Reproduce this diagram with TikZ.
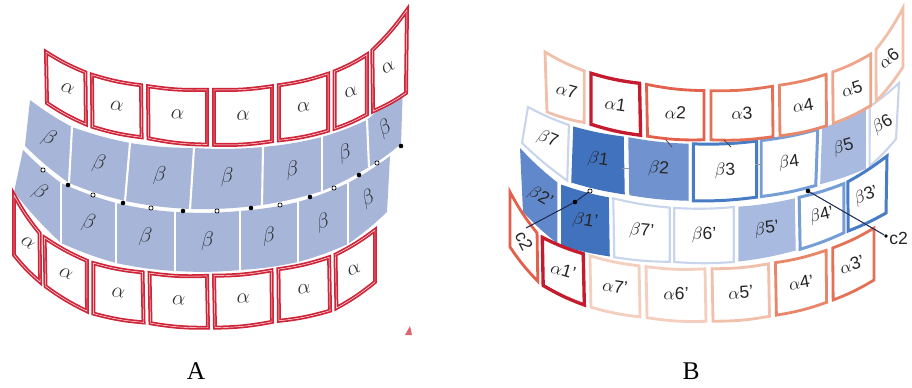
\documentclass[tikz,border=0pt]{standalone}
\usepackage{fontspec}
\setmainfont{Liberation Serif}
\setsansfont{Liberation Sans}
\usetikzlibrary{calc}
\definecolor{aRed}{RGB}{208,36,56}
\definecolor{aBlue}{RGB}{167,181,216}
\definecolor{cR1}{RGB}{196,28,46}
\definecolor{cR2}{RGB}{226,96,76}
\definecolor{cR3}{RGB}{228,112,86}
\definecolor{cR4}{RGB}{231,134,104}
\definecolor{cR5}{RGB}{237,166,140}
\definecolor{cR6}{RGB}{241,192,170}
\definecolor{cR7}{RGB}{244,206,190}
\definecolor{cB0}{RGB}{200,213,236}
\definecolor{cB1}{RGB}{64,114,190}
\definecolor{cB2}{RGB}{112,146,206}
\definecolor{cB3}{RGB}{72,124,196}
\definecolor{cB4}{RGB}{118,158,214}
\definecolor{cB5}{RGB}{168,186,224}
\definecolor{cB6}{RGB}{96,136,202}
\definecolor{lineC}{RGB}{30,45,90}
\tikzset{
  afr/.style={draw=aRed, line width=1pt, double=white, double distance=0.25pt, fill=white},
  bfl/.style={fill=aBlue},
  ra/.style={draw=cR1, line width=1.9pt, fill=white},
  rb/.style={draw=cR2, line width=1.6pt, fill=white},
  rc/.style={draw=cR3, line width=1.6pt, fill=white},
  rd/.style={draw=cR4, line width=1.6pt, fill=white},
  re/.style={draw=cR5, line width=1.6pt, fill=white},
  rf/.style={draw=cR6, line width=1.6pt, fill=white},
  rg/.style={draw=cR7, line width=1.6pt, fill=white},
  ua/.style={draw=cB0, line width=1.2pt, fill=white},
  ub/.style={fill=cB1},
  uc/.style={fill=cB2},
  ud/.style={draw=cB3, line width=1.7pt, fill=white},
  ue/.style={draw=cB4, line width=1.7pt, fill=white},
  uf/.style={fill=cB5},
  ug/.style={fill=cB6},
  sep/.style={draw=white, line width=1.2pt},
  lblA/.style={inner sep=0pt, font=\fontsize{11.5}{13}\selectfont, text=black!80},
  lblB/.style={inner sep=0pt, font=\fontsize{10}{12}\selectfont\sffamily, text=black!85},
  doth/.style={circle, draw=black, line width=0.4pt, fill=white, inner sep=0pt, minimum size=2.4pt},
  dotf/.style={circle, fill=black, inner sep=0pt, minimum size=2.6pt},
  cline/.style={draw=lineC, line width=0.6pt},
  tickm/.style={draw=black!70, line width=0.5pt},
  panel/.style={font=\fontsize{14.5}{17}\selectfont}
}
% #1 row prefix, #2 inset (pt), #3 bend, #4 label style, #5 list style/label
\newcommand\rowcells[5]{%
  \foreach \st/\lb [count=\k from 0] in {#5} {%
    \pgfmathtruncatemacro\j{\k+1}%
    \pgfmathsetlengthmacro\il{\k==0?0:#2}%
    \pgfmathsetlengthmacro\ir{\k==6?0:#2}%
    \path[\st] ($(#1t\k)!\il!(#1t\j)$) to[bend right=#3] ($(#1t\j)!\ir!(#1t\k)$)
      -- ($(#1b\j)!\ir!(#1b\k)$) to[bend left=#3] ($(#1b\k)!\il!(#1b\j)$) -- cycle;
    \ifx\lb\empty\else
    \path let \p1=($(#1t\j)-(#1t\k)$), \p2=($(#1b\j)-(#1b\k)$),
      \n1={0.7*(atan2(\y1,\x1)+atan2(\y2,\x2))/2} in
      node[#4, rotate=\n1] (#1c\k) at ($0.25*(#1t\k)+0.25*(#1t\j)+0.25*(#1b\k)+0.25*(#1b\j)$) {\lb};
    \fi
  }%
}
\begin{document}
\begin{tikzpicture}[x=0.02cm,y=-0.02cm]
\useasboundingbox (0,0) rectangle (912,388);
\fill[white] (0,0) rectangle (912,388);

% ---------- panel A coordinates ----------
\foreach \x/\y [count=\k from 0] in {46/52,88.5/74,144.5/86,210.5/90,275.5/86,331.5/73,370/53,407/10} \coordinate (a1t\k) at (\x,\y);
\foreach \x/\y [count=\k from 0] in {47/103,89/126,145/138,210.5/145,275.5/141,331.5/130,370/113,406/93} \coordinate (a1b\k) at (\x,\y);
\foreach \x/\y [count=\k from 0] in {30/100,72/127,130/143,194/148,263/147,322/137,367/120,403/83} \coordinate (a2t\k) at (\x,\y);
\foreach \x/\y [count=\k from 0] in {25/146,69/183,125/201,190/209,262/205,322/191,369/167,401/144} \coordinate (a2b\k) at (\x,\y);
\foreach \x/\y [count=\k from 0] in {23/150,61/183,116/203,175/212,240/211,298/202,348/183,390/156} \coordinate (a3t\k) at (\x,\y);
\foreach \x/\y [count=\k from 0] in {14/192,61/243,116/263,175/271,240/270,298/262,348/244,387/212} \coordinate (a3b\k) at (\x,\y);
\foreach \x/\y [count=\k from 0] in {14/195,41.5/236,90/262.5,146/273,210.5/276,275/270,332.5/256.5,375/230} \coordinate (a4t\k) at (\x,\y);
\foreach \x/\y [count=\k from 0] in {14/255,42.5/284.5,90/313,147/323,211.5/328,275.5/321.5,333.5/310,375/282} \coordinate (a4b\k) at (\x,\y);

% ---------- panel B coordinates ----------
\foreach \x/\y [count=\k from 0] in {545/52,587.5/72.5,643/84,707.5/91,776/86,829.5/73.5,874/52.5,903/8} \coordinate (b1t\k) at (\x,\y);
\foreach \x/\y [count=\k from 0] in {547/112,587.5/123.5,644/136,707.5/140,776.5/136.5,830/125,874/104,903/67} \coordinate (b1b\k) at (\x,\y);
\foreach \x/\y [count=\k from 0] in {528/107,571/126,626/137,691/144,759/141,820/129,868/108,899/83} \coordinate (b2t\k) at (\x,\y);
\foreach \x/\y [count=\k from 0] in {522/143,569/182,627/195,691/201,759/197,818/185,868/168,896/139} \coordinate (b2b\k) at (\x,\y);
\foreach \x/\y [count=\k from 0] in {520/148,559/184,611/198,672/208,736/207,797/198,846/183,887/156} \coordinate (b3t\k) at (\x,\y);
\foreach \x/\y [count=\k from 0] in {523/212,559/245,612/257,672/262,736/262,798/250,846/232,886/213} \coordinate (b3b\k) at (\x,\y);
\foreach \x/\y [count=\k from 0] in {510/192,539/236,586.5/255,642.5/266.5,708.5/269,772/263.5,829.5/249.5,874/228} \coordinate (b4t\k) at (\x,\y);
\foreach \x/\y [count=\k from 0] in {510/247,540/284,587.5/306.5,643.5/317.5,709.5/321.5,773/316,830/301.5,874/280} \coordinate (b4b\k) at (\x,\y);

% ---------- panel A ----------
\rowcells{a2}{0}{4}{lblA}{bfl/{$\beta$},bfl/{$\beta$},bfl/{$\beta$},bfl/{$\beta$},bfl/{$\beta$},bfl/{$\beta$},bfl/{$\beta$}}
\foreach \k in {1,...,6} \draw[sep] (a2t\k) -- (a2b\k);
\rowcells{a3}{0}{4}{lblA}{bfl/{$\beta$},bfl/{$\beta$},bfl/{$\beta$},bfl/{$\beta$},bfl/{$\beta$},bfl/{$\beta$},bfl/{$\beta$}}
\foreach \k in {1,...,6} \draw[sep] (a3t\k) -- (a3b\k);
\rowcells{a1}{2}{5}{lblA}{afr/{$\alpha$},afr/{$\alpha$},afr/{$\alpha$},afr/{$\alpha$},afr/{$\alpha$},afr/{$\alpha$},afr/{$\alpha$}}
\rowcells{a4}{2}{5}{lblA}{afr/{$\alpha$},afr/{$\alpha$},afr/{$\alpha$},afr/{$\alpha$},afr/{$\alpha$},afr/{$\alpha$},afr/{$\alpha$}}
\foreach \x/\y/\t [count=\k] in {43/170/h,68/185/f,93/195/h,123/203/f,151/208/h,183/211/f,217/211/h,251/208/f,280/205/h,310/197/f,334/188/h,359/175/f,377/163/h,401/146/f}
  \node[dot\t] (ad\k) at (\x,\y) {};
\fill[aRed!70] (405,335) -- (410,326) -- (412,335) -- cycle;

% ---------- panel B ----------
\rowcells{b2}{1.3}{4}{lblB}{ua/{$\beta$7},ub/{$\beta$1},uc/{$\beta$2},ud/{$\beta$3},ue/{$\beta$4},uf/{$\beta$5},ua/{$\beta$6}}
\rowcells{b3}{1.3}{4}{lblB}{ug/{$\beta$2'},ub/{$\beta$1'},ua/{$\beta$7'},ua/{$\beta$6'},uf/{$\beta$5'},ue/{$\beta$4'},ud/{$\beta$3'}}
\rowcells{b1}{2}{5}{lblB}{rf/{$\alpha$7},ra/{$\alpha$1},rb/{$\alpha$2},rc/{$\alpha$3},rd/{$\alpha$4},re/{$\alpha$5},rf/{$\alpha$6}}
\rowcells{b4}{2}{5}{lblB}{rb/{},ra/{$\alpha$1'},rg/{$\alpha$7'},rg/{$\alpha$6'},rf/{$\alpha$5'},rd/{$\alpha$4'},rc/{$\alpha$3'}}

% small marks
\coordinate (m1a) at (666,140); \coordinate (m1b) at (672,147);
\coordinate (m2a) at (724,140); \coordinate (m2b) at (731,147);
\coordinate (m3a) at (622,168); \coordinate (m3b) at (629,168);
\coordinate (m4a) at (755,164); \coordinate (m4b) at (762,164);
\draw[tickm] (m1a) -- (m1b); \draw[tickm] (m2a) -- (m2b);
\draw[tickm, draw=black!40] (m3a) -- (m3b); \draw[tickm, draw=black!40] (m4a) -- (m4b);

% C2 axes
\node[dotf] (f1) at (575,202) {};
\coordinate (e1) at (526,228);
\draw[cline] (f1) -- (e1);
\node[doth] (h1) at (590,191) {};
\draw[cline] (h1) -- (f1);
\node[lblB, rotate=-62] (c2a) at (524,241) {c2};
\node[dotf] (f2) at (808,191) {};
\node[dotf, minimum size=2.2pt] (f3) at (886,236) {};
\draw[cline] (f2) -- (f3);
\node[lblB, anchor=west] (c2b) at (889,238) {c2};

% panel letters
\node[panel] (labA) at (196,371) {A};
\node[panel] (labB) at (691,371) {B};
\end{tikzpicture}
\end{document}
